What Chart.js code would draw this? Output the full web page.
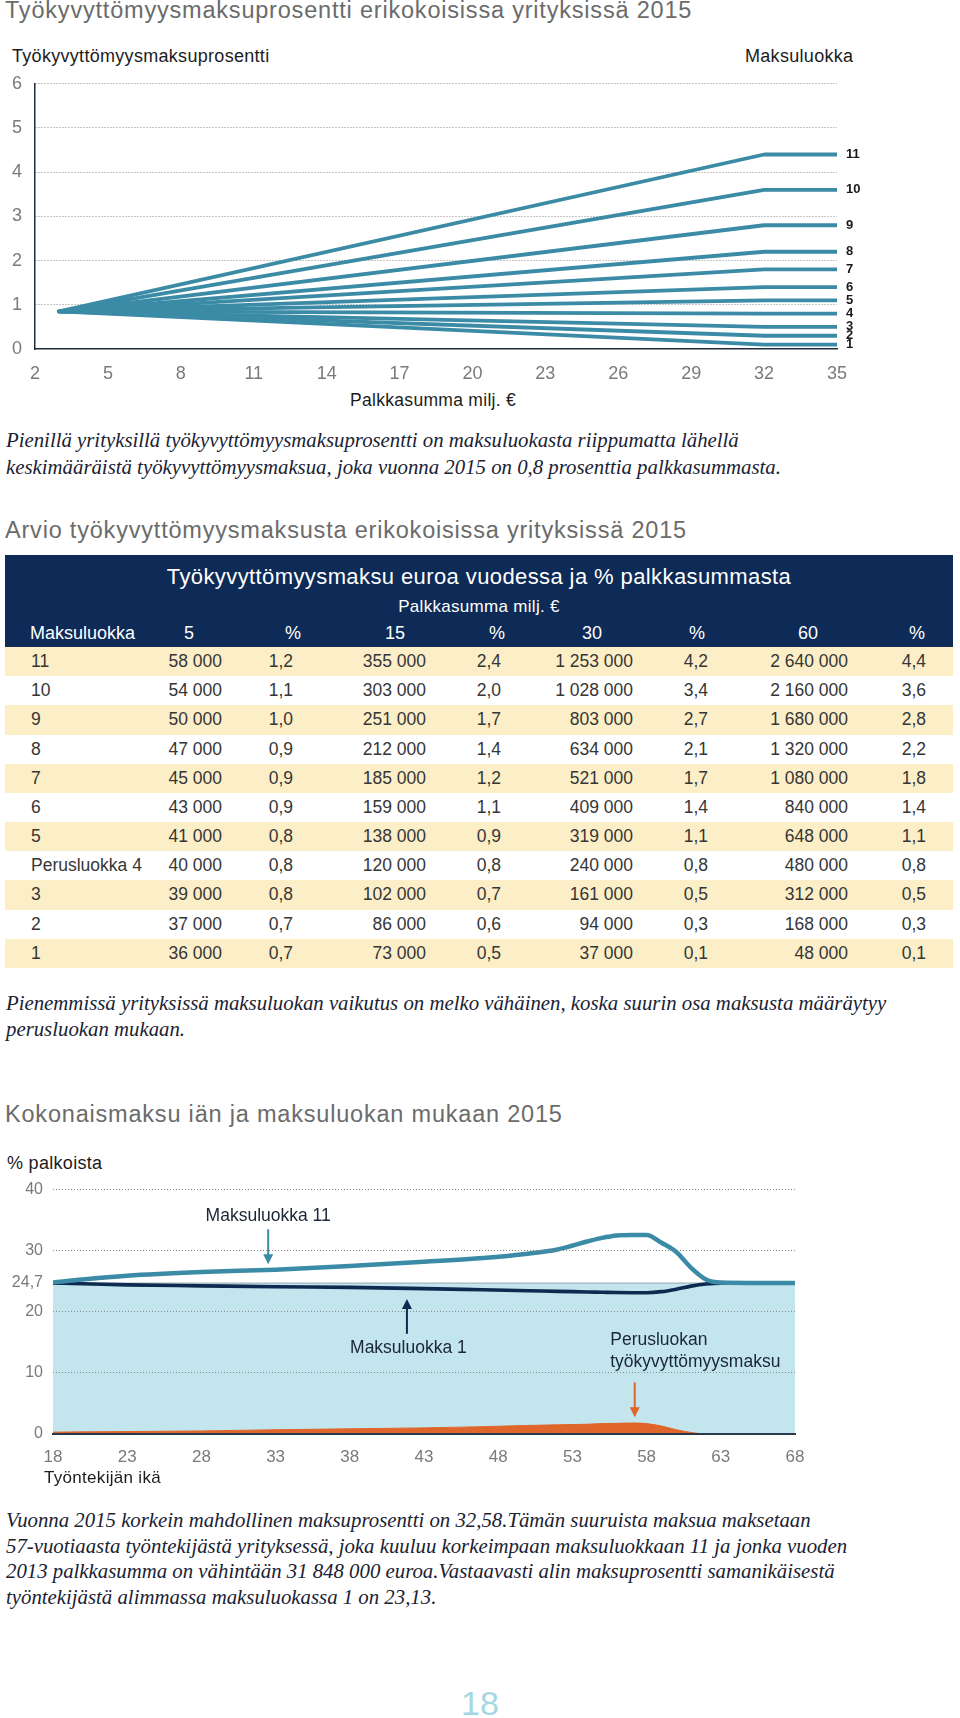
<!DOCTYPE html>
<html lang="fi">
<head>
<meta charset="utf-8">
<title>Työkyvyttömyysmaksu 2015</title>
<script src="https://cdn.jsdelivr.net/npm/chart.js@4.4.1/dist/chart.umd.min.js"></script>
<style>
  html, body { margin: 0; padding: 0; background: #fff; }
  #sivu { position: relative; width: 960px; height: 1718px; overflow: hidden;
          font-family: "Liberation Sans", Arial, Helvetica, sans-serif; }
  .abs { position: absolute; white-space: nowrap; }
  .otsikko { left: 5px; font-size: 23.5px; line-height: 23.5px; letter-spacing: 0.8px; color: #6b6b6b; }
  .selite { font-size: 18px; line-height: 18px; letter-spacing: 0.3px; color: #1c1c1c; }
  .leipa { left: 6px; font-family: "Liberation Serif", "Times New Roman", serif; font-style: italic;
           font-size: 20.8px; color: #1a2233; }
  #taulukko { position: absolute; left: 5px; top: 555px; width: 948px; height: 413px; }
  .otsake { position: absolute; left: 0; top: 0; width: 948px; height: 92px; background: #0e2a56; }
  .rivi { position: absolute; left: 0; width: 948px; height: 29.2px; }
  .keltainen { background: #fcefc8; }
  .solu { position: absolute; top: 0; line-height: 29.2px; font-size: 17.5px; color: #363636; white-space: nowrap; }
  .valk { color: #fff; }
</style>
</head>
<body>
<div id="sivu">
  <div class="abs otsikko" style="top:-1.5px">Työkyvyttömyysmaksuprosentti erikokoisissa yrityksissä 2015</div>
  <div class="abs selite" style="left:12px;top:47px">Työkyvyttömyysmaksuprosentti</div>
  <div class="abs selite" style="left:745px;top:47px">Maksuluokka</div>
  <canvas id="kaavio1" width="900" height="330" style="position:absolute;left:0;top:60px;width:900px;height:330px"></canvas>
  <div class="abs selite" style="left:350px;top:392px;font-size:17.5px;line-height:17.5px">Palkkasumma milj. €</div>
  <div class="abs leipa" style="top:426px;line-height:27px">Pienillä yrityksillä työkyvyttömyysmaksuprosentti on maksuluokasta riippumatta lähellä<br>keskimääräistä työkyvyttömyysmaksua, joka vuonna 2015 on 0,8 prosenttia palkkasummasta.</div>

  <div class="abs otsikko" style="top:519px">Arvio työkyvyttömyysmaksusta erikokoisissa yrityksissä 2015</div>
  <div id="taulukko"></div>
  <div class="abs leipa" style="top:990px;line-height:26px">Pienemmissä yrityksissä maksuluokan vaikutus on melko vähäinen, koska suurin osa maksusta määräytyy<br>perusluokan mukaan.</div>

  <div class="abs otsikko" style="top:1103px">Kokonaismaksu iän ja maksuluokan mukaan 2015</div>
  <div class="abs selite" style="left:7px;top:1154px">% palkoista</div>
  <canvas id="kaavio3" width="900" height="330" style="position:absolute;left:0;top:1170px;width:900px;height:330px"></canvas>
  <div class="abs selite" style="left:44px;top:1468.5px;font-size:17px;line-height:17px">Työntekijän ikä</div>
  <div class="abs leipa" style="top:1507px;line-height:25.6px">Vuonna 2015 korkein mahdollinen maksuprosentti on 32,58.Tämän suuruista maksua maksetaan<br>57-vuotiaasta työntekijästä yrityksessä, joka kuuluu korkeimpaan maksuluokkaan 11 ja jonka vuoden<br>2013 palkkasumma on vähintään 31 848 000 euroa.Vastaavasti alin maksuprosentti samanikäisestä<br>työntekijästä alimmassa maksuluokassa 1 on 23,13.</div>
  <div class="abs" style="left:0;width:960px;text-align:center;top:1686px;font-size:34px;line-height:34px;color:#a6d6df">18</div>
</div>

<script>
// --- kaavio 1: maksuprosentti palkkasumman mukaan
const maksuluokat = ['11', '10', '9', '8', '7', '6', '5', '4', '3', '2', '1'];
const palkkasummaPisteet = [3, 32, 35];
const lahtoProsentti = [0.85, 0.85, 0.85, 0.85, 0.85, 0.85, 0.85, 0.85, 0.85, 0.85, 0.85];
const loppuProsentti = [4.4, 3.6, 2.8, 2.2, 1.8, 1.4, 1.1, 0.8, 0.5, 0.3, 0.1];
const palkkasummaTicks = [2, 5, 8, 11, 14, 17, 20, 23, 26, 29, 32, 35];
const prosenttiTicks = [0, 1, 2, 3, 4, 5, 6];

// --- taulukko
const taulukkoLuokat = ['11', '10', '9', '8', '7', '6', '5', 'Perusluokka 4', '3', '2', '1'];
const sarakeOtsikot = ['5', '%', '15', '%', '30', '%', '60', '%'];
const maksu5 = [58000, 54000, 50000, 47000, 45000, 43000, 41000, 40000, 39000, 37000, 36000];
const pros5 = [1.2, 1.1, 1.0, 0.9, 0.9, 0.9, 0.8, 0.8, 0.8, 0.7, 0.7];
const maksu15 = [355000, 303000, 251000, 212000, 185000, 159000, 138000, 120000, 102000, 86000, 73000];
const pros15 = [2.4, 2.0, 1.7, 1.4, 1.2, 1.1, 0.9, 0.8, 0.7, 0.6, 0.5];
const maksu30 = [1253000, 1028000, 803000, 634000, 521000, 409000, 319000, 240000, 161000, 94000, 37000];
const pros30 = [4.2, 3.4, 2.7, 2.1, 1.7, 1.4, 1.1, 0.8, 0.5, 0.3, 0.1];
const maksu60 = [2640000, 2160000, 1680000, 1320000, 1080000, 840000, 648000, 480000, 312000, 168000, 48000];
const pros60 = [4.4, 3.6, 2.8, 2.2, 1.8, 1.4, 1.1, 0.8, 0.5, 0.3, 0.1];

// --- kaavio 3: kokonaismaksu iän mukaan
const iat = [18, 20, 23, 28, 33, 38, 43, 47, 50, 52, 54, 55, 56, 57, 58, 59, 60, 61, 62, 63, 68];
const maksuluokka11 = [24.8, 25.3, 25.9, 26.5, 26.9, 27.5, 28.2, 28.8, 29.5, 30.2, 31.5, 32.1, 32.5, 32.58, 32.58, 31.3, 29.8, 27.2, 25.3, 24.8, 24.7];
const maksuluokka1 = [24.7, 24.6, 24.4, 24.25, 24.1, 24.0, 23.8, 23.6, 23.45, 23.35, 23.25, 23.2, 23.15, 23.13, 23.13, 23.3, 23.7, 24.2, 24.55, 24.7, 24.7];
const perusluokka = [0.3, 0.35, 0.4, 0.5, 0.7, 0.85, 1.0, 1.2, 1.4, 1.5, 1.6, 1.7, 1.75, 1.8, 1.7, 1.3, 0.7, 0.25, 0, 0, 0];
const perusTaso = 24.7;
const ikaTicks = [18, 23, 28, 33, 38, 43, 48, 53, 58, 63, 68];
const palkkaTicks = [0, 10, 20, 24.7, 30, 40];

const TEAL = '#3b8ba6';
const NAVY = '#0d2a50';
const ORANSSI = '#df652b';
const FONTTI = '"Liberation Sans", Arial, Helvetica, sans-serif';

const muotoileEuro = n => String(n).replace(/\B(?=(\d{3})+(?!\d))/g, ' ');
const muotoilePros = v => v.toFixed(1).replace('.', ',');

// taulukko rakennetaan taulukoista
const taulukko = document.getElementById('taulukko');
const otsake = document.createElement('div');
otsake.className = 'otsake';
otsake.innerHTML =
    '<div class="solu valk" style="left:0;width:948px;text-align:center;top:8px;line-height:28px;font-size:22px;letter-spacing:0.4px">Työkyvyttömyysmaksu euroa vuodessa ja % palkkasummasta</div>' +
    '<div class="solu valk" style="left:0;width:948px;text-align:center;top:40px;line-height:24px;font-size:17px;letter-spacing:0.3px">Palkkasumma milj. €</div>' +
    '<div class="solu valk" style="left:25px;top:64px;line-height:28px;font-size:18px">Maksuluokka</div>';
const otsikkoKeskit = [184, 288, 390, 492, 587, 692, 803, 912];
sarakeOtsikot.forEach((t, i) => {
    otsake.innerHTML += `<div class="solu valk" style="left:${otsikkoKeskit[i] - 40}px;width:80px;text-align:center;top:64px;line-height:28px;font-size:18px">${t}</div>`;
});
taulukko.appendChild(otsake);

const sarakkeet = [
    [maksu5, muotoileEuro], [pros5, muotoilePros], [maksu15, muotoileEuro], [pros15, muotoilePros],
    [maksu30, muotoileEuro], [pros30, muotoilePros], [maksu60, muotoileEuro], [pros60, muotoilePros]
];
const oikeatReunat = [217, 288, 421, 496, 628, 703, 843, 921];
taulukkoLuokat.forEach((luokka, r) => {
    const rivi = document.createElement('div');
    rivi.className = 'rivi' + (r % 2 === 0 ? ' keltainen' : '');
    rivi.style.top = (92 + r * 29.18) + 'px';
    let html = `<div class="solu" style="left:26px">${luokka}</div>`;
    sarakkeet.forEach(([arvot, muoto], c) => {
        html += `<div class="solu" style="left:${oikeatReunat[c] - 120}px;width:120px;text-align:right">${muoto(arvot[r])}</div>`;
    });
    rivi.innerHTML = html;
    taulukko.appendChild(rivi);
});

// --- kaavio 1
const loppuTekstit = {
    id: 'loppuTekstit',
    afterDatasetsDraw(chart) {
        const { ctx, scales: { x, y } } = chart;
        ctx.save();
        ctx.font = '600 13px ' + FONTTI;
        ctx.fillStyle = '#1a1a1a';
        ctx.textBaseline = 'middle';
        chart.data.datasets.forEach(ds => {
            const p = ds.data[ds.data.length - 1];
            ctx.fillText(ds.label, x.getPixelForValue(p.x) + 9, y.getPixelForValue(p.y));
        });
        ctx.restore();
    }
};

new Chart(document.getElementById('kaavio1').getContext('2d'), {
    type: 'line',
    data: {
        datasets: maksuluokat.map((luokka, i) => ({
            label: luokka,
            data: palkkasummaPisteet.map((x, j) => ({ x: x, y: j === 0 ? lahtoProsentti[i] : loppuProsentti[i] })),
            borderColor: TEAL,
            borderWidth: 3.8,
            borderCapStyle: 'round',
            borderJoinStyle: 'round',
            pointRadius: 0,
            tension: 0
        }))
    },
    options: {
        responsive: false,
        animation: false,
        layout: { padding: { left: 0, right: 63, top: 21, bottom: 0 } },
        plugins: { legend: { display: false }, tooltip: { enabled: false } },
        scales: {
            x: {
                type: 'linear', min: 2, max: 35,
                afterBuildTicks: s => { s.ticks = palkkasummaTicks.map(v => ({ value: v })); },
                afterFit: s => { s.height = 41; },
                grid: { display: false, drawTicks: false },
                border: { display: true, color: '#1e2c3c', width: 1.5 },
                ticks: { padding: 14, color: '#7a7a7a', font: { family: FONTTI, size: 18 }, maxRotation: 0, autoSkip: false }
            },
            y: {
                min: 0, max: 6,
                afterBuildTicks: s => { s.ticks = prosenttiTicks.map(v => ({ value: v })); },
                afterFit: s => { s.width = 35; },
                grid: { drawTicks: false, lineWidth: 1, color: c => c.tick && c.tick.value === 0 ? 'rgba(0,0,0,0)' : '#8c8c8c' },
                border: { display: true, color: '#1e2c3c', width: 1.5, dash: [1, 2] },
                ticks: { padding: 13, color: '#7a7a7a', font: { family: FONTTI, size: 18 } }
            }
        }
    },
    plugins: [loppuTekstit]
});

// --- kaavio 3
const merkinnat = [
    { rivit: ['Maksuluokka 11'], ika: 32.5, tekstiIka: 32.5, tekstiY: 35.6, alku: 33.5, loppu: 27.8, vari: TEAL, tasaus: 'center' },
    { rivit: ['Maksuluokka 1'], ika: 41.85, tekstiIka: 41.95, tekstiY: 14.0, alku: 16.4, loppu: 22.1, vari: NAVY, tasaus: 'center' },
    { rivit: ['Perusluokan', 'työkyvyttömyysmaksu'], ika: 57.2, tekstiIka: 55.55, tekstiY: 15.3, alku: 8.45, loppu: 2.76, vari: ORANSSI, tasaus: 'left' }
];

const nuolet = {
    id: 'nuolet',
    afterDraw(chart) {
        const { ctx, scales: { x, y } } = chart;
        ctx.save();
        merkinnat.forEach(m => {
            const px = x.getPixelForValue(m.ika);
            const y1 = y.getPixelForValue(m.alku);
            const y2 = y.getPixelForValue(m.loppu);
            const suunta = y2 > y1 ? 1 : -1;
            ctx.strokeStyle = m.vari;
            ctx.fillStyle = m.vari;
            ctx.lineWidth = 2;
            ctx.beginPath();
            ctx.moveTo(px, y1);
            ctx.lineTo(px, y2 - suunta * 8);
            ctx.stroke();
            ctx.beginPath();
            ctx.moveTo(px - 5, y2 - suunta * 10);
            ctx.lineTo(px + 5, y2 - suunta * 10);
            ctx.lineTo(px, y2);
            ctx.closePath();
            ctx.fill();

            ctx.font = '17.5px ' + FONTTI;
            ctx.fillStyle = '#1b2636';
            ctx.textAlign = m.tasaus;
            ctx.textBaseline = 'middle';
            const tx = x.getPixelForValue(m.tekstiIka);
            const ty = y.getPixelForValue(m.tekstiY);
            m.rivit.forEach((r, i) => ctx.fillText(r, tx, ty + i * 22));
        });
        ctx.restore();
    }
};

const pisteet = arvot => iat.map((ika, i) => ({ x: ika, y: arvot[i] }));

new Chart(document.getElementById('kaavio3').getContext('2d'), {
    type: 'line',
    data: {
        datasets: [
            { label: 'Maksuluokka 11', data: pisteet(maksuluokka11), borderColor: TEAL, borderWidth: 4.5,
              pointRadius: 0, cubicInterpolationMode: 'monotone', borderCapStyle: 'round', fill: false },
            { label: 'Maksuluokka 1', data: pisteet(maksuluokka1), borderColor: NAVY, borderWidth: 3.6,
              pointRadius: 0, cubicInterpolationMode: 'monotone', borderCapStyle: 'round', fill: false },
            { label: 'Perusluokka', data: pisteet(perusluokka), borderColor: ORANSSI, borderWidth: 1,
              backgroundColor: ORANSSI, pointRadius: 0, cubicInterpolationMode: 'monotone', fill: 'origin' },
            { label: 'Perustaso', data: [{ x: iat[0], y: perusTaso }, { x: iat[iat.length - 1], y: perusTaso }],
              borderColor: '#97a8b0', borderWidth: 1, backgroundColor: '#c3e6ee', pointRadius: 0, fill: 'origin' }
        ]
    },
    options: {
        responsive: false,
        animation: false,
        layout: { padding: { left: 0, right: 105, top: 18, bottom: 0 } },
        plugins: { legend: { display: false }, tooltip: { enabled: false } },
        scales: {
            x: {
                type: 'linear', min: 18, max: 68,
                afterBuildTicks: s => { s.ticks = ikaTicks.map(v => ({ value: v })); },
                afterFit: s => { s.height = 66; },
                grid: { display: false, drawTicks: false },
                border: { display: true, color: '#2b3a4a', width: 2, z: 1 },
                ticks: { padding: 13, color: '#7a7a7a', font: { family: FONTTI, size: 17 }, maxRotation: 0, autoSkip: false }
            },
            y: {
                min: 0, max: 40,
                afterBuildTicks: s => { s.ticks = palkkaTicks.map(v => ({ value: v })); },
                afterFit: s => { s.width = 53; },
                grid: {
                    drawTicks: false, z: 1, lineWidth: 1,
                    color: c => (c.tick && (c.tick.value === 0 || c.tick.value === perusTaso)) ? 'rgba(0,0,0,0)' : '#8a8a8a'
                },
                border: { display: false, dash: [1, 2] },
                ticks: {
                    padding: 10, color: '#7a7a7a', font: { family: FONTTI, size: 16 },
                    callback: v => String(v).replace('.', ',')
                }
            }
        }
    },
    plugins: [nuolet]
});
</script>
</body>
</html>
